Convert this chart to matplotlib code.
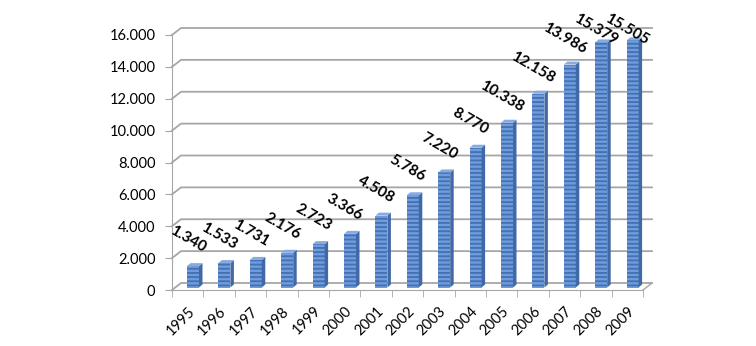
import numpy as np
import matplotlib
matplotlib.use("Agg")
from matplotlib import pyplot as plt
from matplotlib.patches import Polygon

years = ["1995", "1996", "1997", "1998", "1999", "2000", "2001", "2002",
         "2003", "2004", "2005", "2006", "2007", "2008", "2009"]
values = [1340, 1533, 1731, 2176, 2723, 3366, 4508, 5786,
          7220, 8770, 10338, 12158, 13986, 15379, 15505]
value_labels = ["1.340", "1.533", "1.731", "2.176", "2.723", "3.366", "4.508", "5.786",
                "7.220", "8.770", "10.338", "12.158", "13.986", "15.379", "15.505"]
yticks = [0, 2000, 4000, 6000, 8000, 10000, 12000, 14000, 16000]

plt.rcParams['font.family'] = ['Lato', 'DejaVu Sans']
plt.rcParams['hatch.linewidth'] = 1.3

W, H = 756, 346
fig = plt.figure(figsize=(W / 100, H / 100), dpi=100)
# plot area (front plane) in pixels: x 172..643, y 290..35
ax = fig.add_axes([172 / W, (H - 290) / H, 471 / W, 255 / H])
n = len(years)
ax.set_xlim(-0.5, n - 0.5)
ax.set_ylim(0, 16000)

# pixel -> data units
DX = n / 471
DY = 16000 / 255
depth_x, depth_y = 9, 7
grid_col = "#a6a6a6"

# back wall gridlines with slanted joins to the front axis
for v in yticks:
    ax.plot([-0.5, -0.5 + depth_x * DX, n - 0.5 + depth_x * DX],
            [v, v + depth_y * DY, v + depth_y * DY],
            color=grid_col, lw=1.3, clip_on=False, zorder=1)
# right floor edge
ax.plot([n - 0.5, n - 0.5 + depth_x * DX], [0, depth_y * DY],
        color=grid_col, lw=1.0, clip_on=False, zorder=1)

# bars (front face, side, top)
face_w = 12 * DX
x0 = np.arange(n) - 0.5 + 15 * DX
base = 2.5 * DY
sx, sy = 3.5 * DX, 3 * DY
ax.bar(x0, values, bottom=base, width=face_w, align="edge", color="#6d9ddc",
       edgecolor="#4670b2", linewidth=0, hatch="----", zorder=3)
for x, v in zip(x0, values):
    top = base + v
    side = Polygon([(x + face_w, base), (x + face_w + sx, base + sy),
                    (x + face_w + sx, top + sy), (x + face_w, top)],
                   closed=True, facecolor="#4169a6", edgecolor="none", zorder=3)
    cap = Polygon([(x, top), (x + sx, top + sy), (x + face_w + sx, top + sy),
                   (x + face_w, top)],
                  closed=True, facecolor="#85abe2", edgecolor="none", zorder=3)
    ax.add_patch(side)
    ax.add_patch(cap)

# data labels
label_max = 16000 + 5 * DY
for i, (v, s) in enumerate(zip(values, value_labels)):
    y = min(v + 29 * DY, label_max)
    ax.text(i, y, s, rotation=-30, ha="center", va="center",
            fontsize=11, fontweight="bold", color="black", zorder=5,
            rotation_mode="anchor")

# axes styling
for s in ["top", "right"]:
    ax.spines[s].set_visible(False)
ax.spines["left"].set_color(grid_col)
ax.spines["bottom"].set_color(grid_col)
ax.set_yticks(yticks)
ax.set_yticklabels([f"{v:,}".replace(",", ".") for v in yticks])
ax.tick_params(axis="y", length=5, color=grid_col, labelsize=10.5, pad=7)
ax.set_xticks(np.arange(n), labels=years)
ax.set_xticks(np.arange(n + 1) - 0.5, minor=True)
ax.tick_params(axis="x", which="major", length=0, pad=10, labelsize=10.5)
ax.tick_params(axis="x", which="minor", length=5, color=grid_col)
for lab in ax.get_xticklabels():
    lab.set_rotation(45)
    lab.set_ha("right")
    lab.set_rotation_mode("anchor")
ax.set_facecolor("none")

fig.savefig("out.png", dpi=100)
